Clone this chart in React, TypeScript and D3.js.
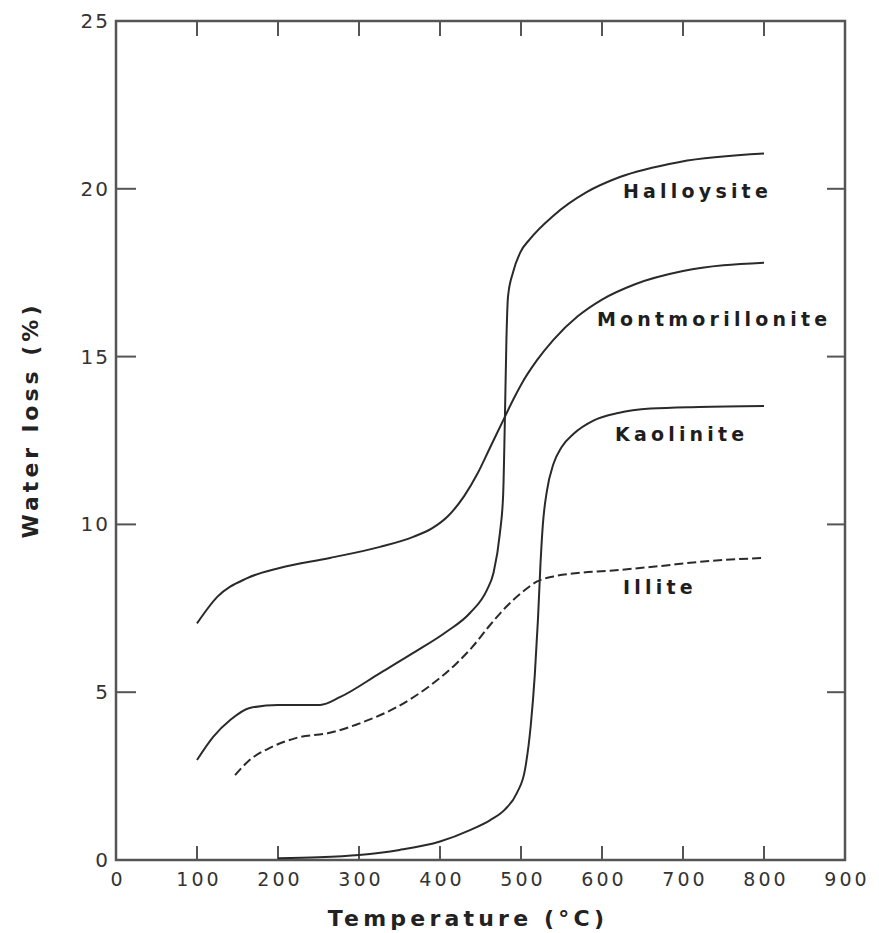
import React from "react";
import * as d3 from "d3";

const xTicks = [0, 100, 200, 300, 400, 500, 600, 700, 800, 900];
const yTicks = [0, 5, 10, 15, 20, 25];

const halloysiteT = [100, 120, 141, 165, 200, 252, 277, 326, 367, 408, 437, 458, 466, 474, 478, 480, 482, 484, 490, 499, 511, 540, 581, 622, 696, 800];
const halloysiteW = [2.98, 3.67, 4.17, 4.53, 4.62, 4.62, 4.86, 5.57, 6.17, 6.8, 7.36, 8.05, 8.55, 9.75, 10.9, 13.0, 15.5, 16.8, 17.5, 18.1, 18.5, 19.2, 19.9, 20.35, 20.8, 21.05];

const montT = [100, 125, 162, 202, 264, 326, 367, 390, 410, 430, 446, 462, 478, 490, 501, 520, 540, 570, 600, 640, 700, 800];
const montW = [7.05, 7.84, 8.4, 8.7, 9.0, 9.33, 9.63, 9.88, 10.25, 10.85, 11.5, 12.3, 13.1, 13.7, 14.2, 14.9, 15.5, 16.2, 16.7, 17.15, 17.55, 17.8];

const kaolT = [200, 250, 300, 350, 400, 437, 462, 480, 495, 505, 512, 517, 521, 524, 527, 532, 540, 550, 565, 590, 620, 660, 720, 800];
const kaolW = [0.05, 0.08, 0.15, 0.3, 0.55, 0.89, 1.19, 1.5, 2.0, 2.7, 4.0, 5.5, 7.2, 8.8, 10.0, 11.0, 11.8, 12.3, 12.7, 13.1, 13.32, 13.45, 13.5, 13.53];

const illiteT = [147, 165, 190, 223, 264, 305, 347, 388, 420, 440, 460, 480, 500, 520, 540, 570, 610, 660, 737, 800];
const illiteW = [2.53, 2.98, 3.34, 3.64, 3.79, 4.11, 4.56, 5.2, 5.85, 6.35, 6.95, 7.5, 7.95, 8.3, 8.45, 8.55, 8.62, 8.73, 8.92, 9.0];

const seriesNames = ["Halloysite", "Montmorillonite", "Kaolinite", "Illite"];

export default function App() {
  const W = 879, H = 933;
  const x = d3.scaleLinear().domain([0, 900]).range([116, 845]);
  const y = d3.scaleLinear().domain([0, 25]).range([860, 21]);
  const line = d3
    .line<[number, number]>()
    .x((d) => x(d[0]))
    .y((d) => y(d[1]))
    .curve(d3.curveMonotoneX);
  const zip = (a: number[], b: number[]) => a.map((v, i) => [v, b[i]] as [number, number]);

  const series = [
    { name: seriesNames[0], pts: zip(halloysiteT, halloysiteW), dash: undefined, lx: 623, ly: 198 },
    { name: seriesNames[1], pts: zip(montT, montW), dash: undefined, lx: 597, ly: 326 },
    { name: seriesNames[2], pts: zip(kaolT, kaolW), dash: undefined, lx: 615, ly: 441 },
    { name: seriesNames[3], pts: zip(illiteT, illiteW), dash: "9,4", lx: 623, ly: 594 },
  ];

  const font = "'DejaVu Sans', sans-serif";
  const axisColor = "#555";
  const lineColor = "#2a2a2a";
  const [x0, x1] = x.range();
  const [yb, yt] = y.range();

  return (
    <svg width={W} height={H} style={{ position: "absolute", left: 0, top: 0, background: "#fff" }}>
      {/* frame */}
      <rect x={x0} y={yt} width={x1 - x0} height={yb - yt} fill="none" stroke={axisColor} strokeWidth={2.5} />
      {/* x ticks */}
      {xTicks.slice(1, -1).map((t) => (
        <g key={"xt" + t}>
          <line x1={x(t)} x2={x(t)} y1={yb} y2={yb - 14} stroke={axisColor} strokeWidth={2} />
          <line x1={x(t)} x2={x(t)} y1={yt} y2={yt + 15} stroke={axisColor} strokeWidth={2} />
        </g>
      ))}
      {/* y ticks */}
      {yTicks.slice(1, -1).map((t) => (
        <g key={"yt" + t}>
          <line x1={x0} x2={x0 + 20} y1={y(t)} y2={y(t)} stroke={axisColor} strokeWidth={2} />
          <line x1={x1} x2={x1 - 18} y1={y(t)} y2={y(t)} stroke={axisColor} strokeWidth={2} />
        </g>
      ))}
      {/* x tick labels */}
      {xTicks.map((t) => (
        <text key={"xl" + t} x={x(t) + 2} y={886} textAnchor="middle" fontFamily={font} fontSize={19} letterSpacing={3} fill="#333">
          {t}
        </text>
      ))}
      {/* y tick labels */}
      {yTicks.map((t) => (
        <text key={"yl" + t} x={110} y={y(t) + 7} textAnchor="end" fontFamily={font} fontSize={20} letterSpacing={2} fill="#333">
          {t}
        </text>
      ))}
      {/* axis titles */}
      <text x={468} y={926} textAnchor="middle" fontFamily={font} fontSize={22} fontWeight="bold" letterSpacing={4.2} fill="#222">
        Temperature (°C)
      </text>
      <text
        transform={`translate(38, 420) rotate(-90)`}
        textAnchor="middle"
        fontFamily={font}
        fontSize={22}
        fontWeight="bold"
        letterSpacing={4}
        fill="#222"
      >
        Water loss (%)
      </text>
      {/* curves */}
      {series.map((s) => (
        <path key={s.name} d={line(s.pts) || ""} fill="none" stroke={lineColor} strokeWidth={2} strokeDasharray={s.dash} />
      ))}
      {/* labels */}
      {series.map((s) => (
        <text key={"lab" + s.name} x={s.lx} y={s.ly} fontFamily={font} fontSize={19} fontWeight="bold" letterSpacing={4.2} fill="#1e1e1e">
          {s.name}
        </text>
      ))}
    </svg>
  );
}
